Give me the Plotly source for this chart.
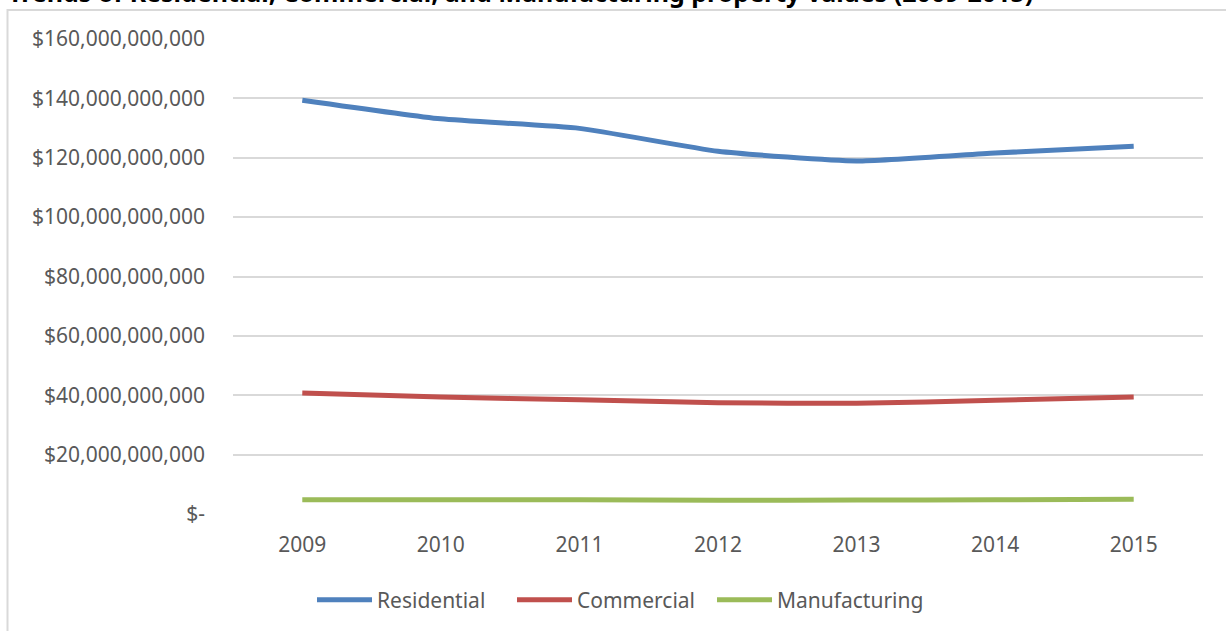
import plotly.graph_objects as go

years = ["2009", "2010", "2011", "2012", "2013", "2014", "2015"]
residential = [139.4e9, 133.1e9, 129.9e9, 122.2e9, 118.9e9, 121.6e9, 123.9e9]
commercial = [40.8e9, 39.4e9, 38.5e9, 37.5e9, 37.3e9, 38.3e9, 39.4e9]
manufacturing = [4.8e9, 4.8e9, 4.8e9, 4.6e9, 4.7e9, 4.8e9, 5.0e9]

tick_vals = [0, 20e9, 40e9, 60e9, 80e9, 100e9, 120e9, 140e9, 160e9]
tick_text = ["$-", "$20,000,000,000", "$40,000,000,000", "$60,000,000,000",
             "$80,000,000,000", "$100,000,000,000", "$120,000,000,000",
             "$140,000,000,000", "$160,000,000,000"]

title_text = "Trends of Residential, Commercial, and Manufacturing property values (2009-2015)"

W, H = 1226, 631
L, R, T, B = 233, 23, 39, 116
pw, ph = W - L - R, H - T - B


def px_x(p):
    return (p - L) / pw


def px_y(p):
    return (H - B - p) / ph


FONT = "Noto Sans"
GRAY = "#595959"

fig = go.Figure()
series = [("Residential", residential, "#4F81BD", 130),
          ("Commercial", commercial, "#C0504D", 130),
          ("Manufacturing", manufacturing, "#9BBB59", 220)]
for name, vals, col, lw in series:
    fig.add_trace(go.Scatter(x=years, y=vals, name=name, mode="lines", legendwidth=lw,
                             line=dict(color=col, width=5, shape="spline", smoothing=0.5)))

fig.update_layout(
    width=W, height=H,
    margin=dict(l=L, r=R, t=T, b=B),
    paper_bgcolor="white", plot_bgcolor="white",
    font=dict(family=FONT, size=21, color=GRAY),
    showlegend=True,
    legend=dict(orientation="h", x=px_x(312), xanchor="left", y=px_y(600), yanchor="middle",
                entrywidthmode="pixels", itemwidth=55,
                font=dict(family=FONT, size=21, color=GRAY), bgcolor="rgba(0,0,0,0)"),
    xaxis=dict(type="category", range=[-0.5, 6.5], showgrid=False, showline=False,
               zeroline=False, ticks="", ticklabelstandoff=16,
               tickfont=dict(family=FONT, size=21, color=GRAY)),
    yaxis=dict(range=[0, 160e9], tickvals=tick_vals, ticktext=tick_text,
               showgrid=True, gridcolor="#D9D9D9", gridwidth=1.5,
               zeroline=False, showline=False, ticks="", ticklabelstandoff=27,
               tickfont=dict(family=FONT, size=21, color=GRAY)),
    shapes=[dict(type="rect", xref="paper", yref="paper",
                 x0=px_x(7.5), x1=px_x(1240), y0=px_y(700), y1=px_y(10),
                 line=dict(color="#D9D9D9", width=2), fillcolor="rgba(0,0,0,0)", layer="below")],
    annotations=[dict(text="<b>" + title_text + "</b>", xref="paper", yref="paper",
                      x=px_x(6), xanchor="left", y=px_y(11), yanchor="bottom",
                      showarrow=False, font=dict(family=FONT, size=25, color="black"))],
)

fig.write_html("out.html")
